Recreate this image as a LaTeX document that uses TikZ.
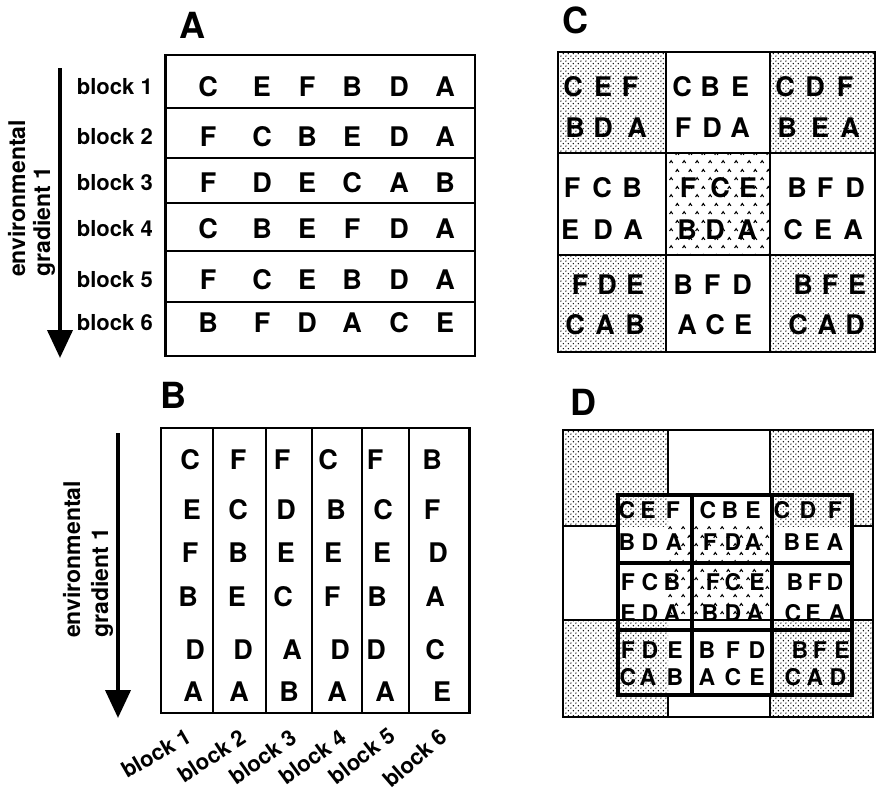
\documentclass[tikz,border=0pt]{standalone}
\usepackage{fontspec}
\setmainfont{TeX Gyre Heros}
\usetikzlibrary{arrows.meta,patterns}

\pgfdeclarepatternformonly{stipple}{\pgfqpoint{-1pt}{-1pt}}{\pgfqpoint{4.4pt}{4.4pt}}{\pgfqpoint{5.4pt}{5.4pt}}{%
  \pgfpathcircle{\pgfqpoint{0pt}{0pt}}{0.82pt}%
  \pgfpathcircle{\pgfqpoint{2.7pt}{2.7pt}}{0.82pt}%
  \pgfusepath{fill}}

\pgfdeclarepatternformonly{carets}{\pgfqpoint{0pt}{0pt}}{\pgfqpoint{12.6pt}{16.6pt}}{\pgfqpoint{12.6pt}{16.6pt}}{%
  \pgfsetlinewidth{1.1pt}%
  \pgfpathmoveto{\pgfqpoint{1.6pt}{2pt}}\pgfpathlineto{\pgfqpoint{3.2pt}{4.4pt}}\pgfpathlineto{\pgfqpoint{4.8pt}{2pt}}%
  \pgfpathmoveto{\pgfqpoint{7.9pt}{10.3pt}}\pgfpathlineto{\pgfqpoint{9.5pt}{12.7pt}}\pgfpathlineto{\pgfqpoint{11.1pt}{10.3pt}}%
  \pgfusepath{stroke}}

\begin{document}
\begin{tikzpicture}[x=1pt,y=-1pt,
  lt/.style={inner sep=0pt, font=\bfseries\fontsize{27}{27}\selectfont},
  ltd/.style={inner sep=0pt, font=\bfseries\fontsize{23}{23}\selectfont},
  lbl/.style={inner sep=0pt, font=\bfseries\fontsize{22}{22}\selectfont},
  env/.style={inner sep=0pt, font=\bfseries\fontsize{23}{23}\selectfont, rotate=90, anchor=base west},
  panel/.style={inner sep=0pt, font=\bfseries\fontsize{36}{36}\selectfont},
  frame/.style={line width=2.7pt},
  sep/.style={line width=2pt},
  grid/.style={line width=2.5pt},
  thickgrid/.style={line width=3.8pt},
  gradarrow/.style={line width=4pt, -{Triangle[width=25pt,length=28pt]}},
  dots/.style={pattern=stipple, pattern color=black},
  carfill/.style={pattern=carets, pattern color=black}]
\useasboundingbox (0,0) rectangle (880,798);

% ---------------- panel labels
\node[panel] (labA) at (192,25) {A};
\node[panel] (labB) at (173,395) {B};
\node[panel] (labC) at (575,20) {C};
\node[panel] (labD) at (583,402) {D};

% ---------------- panel A
\draw[frame] (165.7,55) rectangle (475,356);
\foreach \y in {108.3,157.7,203.3,250.7,301.7}
  \draw[sep] (165.7,\y) -- (475,\y);
\foreach \y/\la/\lb/\lc/\ld/\le/\lf [count=\r] in
  {87/C/E/F/B/D/A, 137/F/C/B/E/D/A, 183/F/D/E/C/A/B,
   229/C/B/E/F/D/A, 280/F/C/E/B/D/A, 323/B/F/D/A/C/E}{
  \node[lt] (A\r-1) at (208,\y) {\la};
  \node[lt] (A\r-2) at (262,\y) {\lb};
  \node[lt] (A\r-3) at (307,\y) {\lc};
  \node[lt] (A\r-4) at (352,\y) {\ld};
  \node[lt] (A\r-5) at (399,\y) {\le};
  \node[lt] (A\r-6) at (445,\y) {\lf};
  \node[lbl, anchor=east] (Ablk\r) at (153,\y) {block \r};
}
\node[env] (envA1) at (25,277) {environmental};
\node[env] (envA2) at (50,277) {gradient 1};
\coordinate (gA0) at (60,68);
\coordinate (gA1) at (60,358);
\draw[gradarrow] (gA0) -- (gA1);

% ---------------- panel B
\draw[frame] (161,428) rectangle (469.5,713);
\foreach \x in {213.3,265.7,312.3,362.3,409.3}
  \draw[sep] (\x,428) -- (\x,713);
\foreach \x/\y/\t [count=\i] in
  {190/460/C, 192/510/E, 190/553/F, 188/597/B, 195/650/D, 193/692/A,
   238/460/F, 238/510/C, 238/553/B, 237/597/E, 243/650/D, 239/692/A,
   282/460/F, 286/510/D, 286/553/E, 283/597/C, 292/650/A, 289/692/B,
   328/460/C, 336/510/B, 333/553/E, 332/597/F, 340/650/D, 337/692/A,
   375/460/F, 383/510/C, 382/553/E, 377/597/B, 376/650/D, 385/692/A,
   432/460/B, 432/510/F, 438/553/D, 435/597/A, 435/650/C, 442/692/E}
  \node[lt] (B\i) at (\x,\y) {\t};
\foreach \x/\y/\ang/\n in {156/753/30/1, 212/756/33/2, 263/757/35/3,
                           313/757/36/4, 362/756/38/5, 415/758/41/6}
  \node[lbl, rotate=\ang] (Bblk\n) at (\x,\y) {block \n};
\node[env] (envB1) at (80,638) {environmental};
\node[env] (envB2) at (108,638) {gradient 1};
\coordinate (gB0) at (118,433);
\coordinate (gB1) at (118,718);
\draw[gradarrow] (gB0) -- (gB1);

% ---------------- panel C
\fill[dots] (558,52) rectangle (666,153);
\fill[dots] (770,52) rectangle (875,153);
\fill[dots] (558,255) rectangle (666,352);
\fill[dots] (770,255) rectangle (875,352);
\fill[carfill] (666,153) rectangle (770,255);
\foreach \xa/\xb/\xc/\y/\la/\lb/\lc [count=\i] in
  {573/603/630/87/C/E/F, 575/603/637/128/B/D/A,
   682/710/740/87/C/B/E, 683/712/740/128/F/D/A,
   785/815/845/87/C/D/F, 787/820/850/128/B/E/A,
   572/602/632/188/F/C/B, 570/603/633/230/E/D/A,
   688/720/748/188/F/C/E, 687/715/747/230/B/D/A,
   797/825/855/188/B/F/D, 793/823/853/230/C/E/A,
   580/607/635/285/F/D/E, 575/605/635/325/C/A/B,
   683/712/742/285/B/F/D, 687/715/743/325/A/C/E,
   803/830/857/285/B/F/E, 798/827/855/325/C/A/D}{
  \node[lt] (C\i-1) at (\xa,\y) {\la};
  \node[lt] (C\i-2) at (\xb,\y) {\lb};
  \node[lt] (C\i-3) at (\xc,\y) {\lc};
}
\draw[frame] (558,52) rectangle (875,352);
\foreach \x in {666,770} \draw[grid] (\x,52) -- (\x,352);
\foreach \y in {153,255} \draw[grid] (558,\y) -- (875,\y);

% ---------------- panel D
\fill[dots] (563,430) rectangle (668,526);
\fill[dots] (770,430) rectangle (873,526);
\fill[dots] (563,620) rectangle (668,717);
\fill[dots] (770,620) rectangle (873,717);
\fill[carfill] (668,526) rectangle (770,620);
\foreach \xa/\xb/\xc/\y/\la/\lb/\lc [count=\i] in
  {627/648/673/510/C/E/F, 627/650/674/542/B/D/A,
   708/730/753/510/C/B/E, 710/733/753/542/F/D/A,
   782/808/835/510/C/D/F, 792/812/835/542/B/E/A,
   628/650/672/582/F/C/B, 628/650/672/613/E/D/A,
   713/733/757/582/F/C/E, 710/733/755/613/B/D/A,
   795/815/835/582/B/F/D, 793/813/837/613/C/E/A,
   628/650/675/650/F/D/E, 628/648/675/677/C/A/B,
   707/733/757/650/B/F/D, 707/733/757/677/A/C/E,
   800/820/842/650/B/F/E, 793/815/838/677/C/A/D}{
  \node[ltd] (D\i-1) at (\xa,\y) {\la};
  \node[ltd] (D\i-2) at (\xb,\y) {\lb};
  \node[ltd] (D\i-3) at (\xc,\y) {\lc};
}
% outer grid
\draw[frame] (563,430) rectangle (873,717);
\draw[grid] (668,430) -- (668,495);
\draw[grid] (668,695) -- (668,717);
\draw[grid] (770,430) -- (770,495);
\draw[grid] (770,695) -- (770,717);
\draw[grid] (563,526) -- (618,526);
\draw[grid] (852,526) -- (873,526);
\draw[sep] (563,620) -- (873,620);
% inner grid
\draw[thickgrid] (618,495) rectangle (852,695);
\foreach \x in {692,772} \draw[thickgrid] (\x,495) -- (\x,695);
\foreach \y in {563,630} \draw[thickgrid] (618,\y) -- (852,\y);
\end{tikzpicture}
\end{document}
